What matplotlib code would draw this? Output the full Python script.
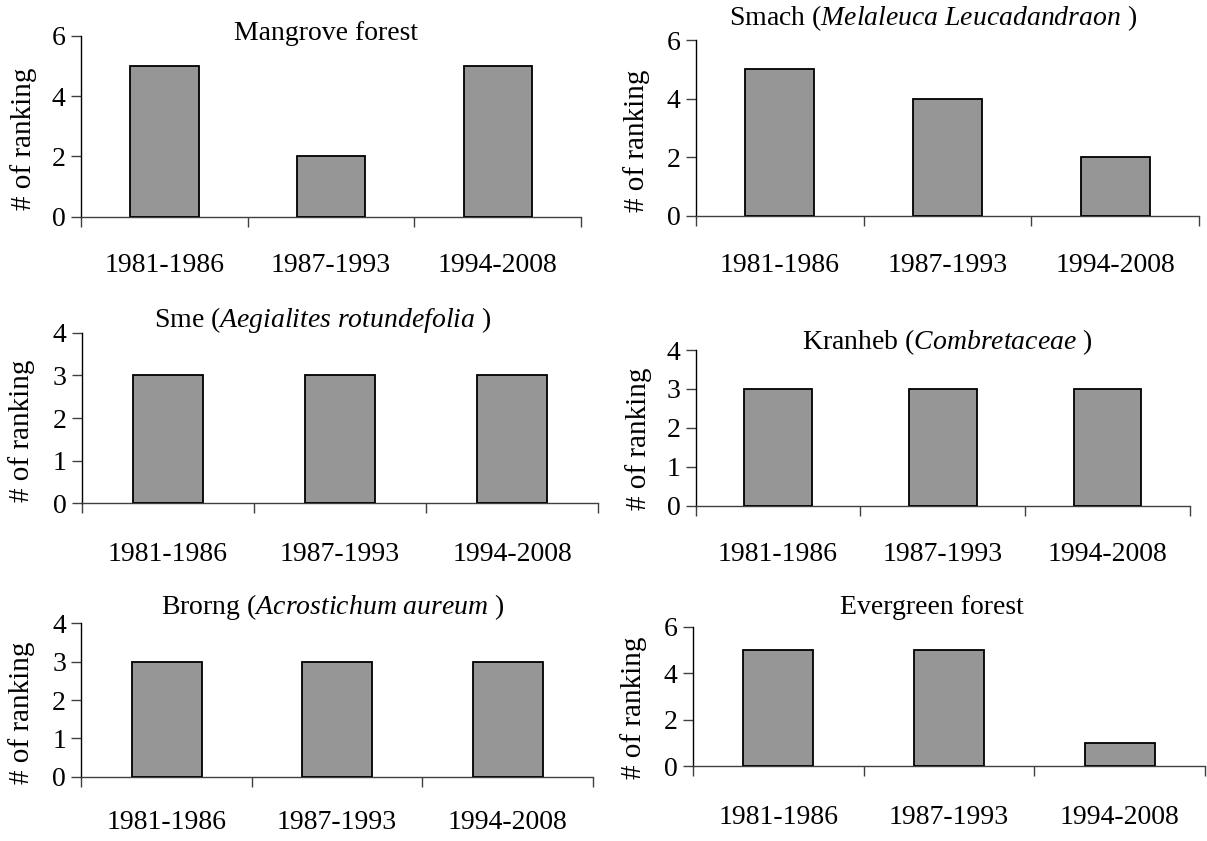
import numpy as np
import matplotlib
matplotlib.use("Agg")
import matplotlib.pyplot as plt

plt.rcParams['font.family'] = ['Liberation Serif', 'DejaVu Serif']
plt.rcParams['mathtext.fontset'] = 'custom'
plt.rcParams['mathtext.rm'] = 'Liberation Serif'
plt.rcParams['mathtext.it'] = 'Liberation Serif:italic'

# data
periods = ['1981-1986', '1987-1993', '1994-2008']
mangrove = [5, 2, 5]
smach = [5, 4, 2]
sme = [3, 3, 3]
kranheb = [3, 3, 3]
brorng = [3, 3, 3]
evergreen = [5, 5, 1]

titles = ['Mangrove forest',
          r'Smach ($\mathit{Melaleuca\ Leucadandraon}$ )',
          r'Sme ($\mathit{Aegialites\ rotundefolia}$ )',
          r'Kranheb ($\mathit{Combretaceae}$ )',
          r'Brorng ($\mathit{Acrostichum\ aureum}$ )',
          'Evergreen forest']
series = [mangrove, smach, sme, kranheb, brorng, evergreen]
ymax = [6, 6, 4, 4, 4, 6]
ystep = [2, 2, 1, 1, 1, 2]

W, H = 1207, 841
fig = plt.figure(figsize=(W / 100, H / 100), dpi=100)

# layout in pixels: left, right, top, bottom of plot area
boxes = [(81, 581, 35.7, 216.7),
         (696, 1199, 40, 215.7),
         (82, 598, 332.7, 503.3),
         (695.6, 1190, 350, 505.7),
         (81.3, 593, 623.3, 776.7),
         (693, 1205, 626.7, 766)]
title_pos = [(326, 33), (933, 18), (323, 320), (947, 342), (333, 607), (932, 607)]
ylab_pos = [(24, 139), (637, 141), (22, 431), (639, 439), (22, 713), (634, 708)]
xpads = [26.3, 26.8, 27.8, 26.1, 24, 28.1]

axcol = '#404040'
for i, vals in enumerate(series):
    l, r, t, b = boxes[i]
    ax = fig.add_axes([l / W, 1 - b / H, (r - l) / W, (b - t) / H])
    x = np.arange(len(periods))
    ax.bar(x, vals, width=0.41, color='#969696', edgecolor='black', linewidth=1.3, zorder=3)
    ax.set_xlim(-0.5, 2.5)
    ax.set_ylim(0, ymax[i])
    ax.set_yticks(np.arange(0, ymax[i] + 1, ystep[i]))
    # category boundary ticks, labels centred between them
    ax.set_xticks(np.arange(-0.5, 3, 1.0))
    ax.set_xticklabels([])
    ax.set_xticks(x, periods, minor=True)
    ax.tick_params(axis='x', which='major', direction='out', length=7, width=1, color=axcol)
    ax.tick_params(axis='x', which='minor', length=0, pad=xpads[i], labelsize=20)
    ax.tick_params(axis='y', direction='out', length=7, width=1, color=axcol, pad=4, labelsize=20)
    for s in ['top', 'right']:
        ax.spines[s].set_visible(False)
    ax.spines['left'].set_color('black')
    ax.spines['bottom'].set_color(axcol)
    ax.spines['left'].set_linewidth(1)
    ax.spines['bottom'].set_linewidth(1)
    ax.patch.set_alpha(0)

    tx, ty = title_pos[i]
    fig.text(tx / W, 1 - ty / H, titles[i], ha='center', va='center', fontsize=20)
    lx, ly = ylab_pos[i]
    fig.text(lx / W, 1 - ly / H, '# of ranking', ha='center', va='center',
             rotation=90, fontsize=21)

fig.savefig('out.png', dpi=100, facecolor='white')
